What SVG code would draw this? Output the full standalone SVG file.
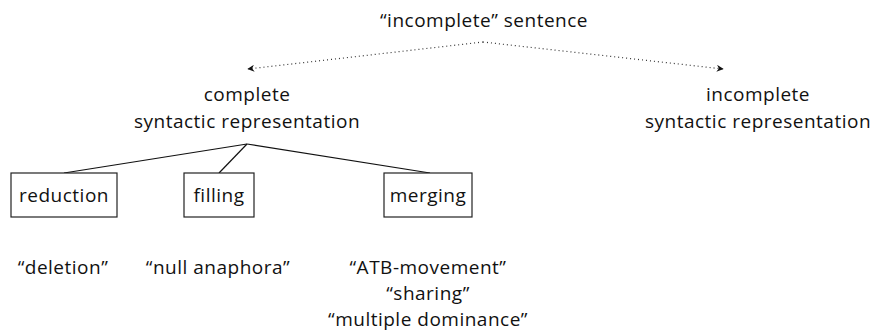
<svg xmlns="http://www.w3.org/2000/svg" width="878" height="336" viewBox="0 0 878 336">
<defs>
<style>
text{font-family:"Open Sans","Noto Sans",sans-serif;font-size:19px;letter-spacing:0.5px;fill:#111;text-anchor:middle}
.box{fill:#fff;stroke:#222;stroke-width:1.2}
.tree{stroke:#111;stroke-width:1.2;fill:none}
.dot{stroke:#333;stroke-width:1.2;fill:none;stroke-dasharray:1 3}
</style>
<marker id="ah" viewBox="0 0 10 10" refX="9" refY="5" markerWidth="7" markerHeight="7" markerUnits="userSpaceOnUse" orient="auto">
<path d="M0,0 L10,5 L0,10 L3,5 Z" fill="#111"/>
</marker>
</defs>
<g id="connectors">
<path class="dot" d="M483,42 L248,69" marker-end="url(#ah)"/>
<path class="dot" d="M483,42 L723,69" marker-end="url(#ah)"/>
<path class="tree" d="M247,144 L64,173"/>
<path class="tree" d="M247,144 L219,173"/>
<path class="tree" d="M247,144 L430,173"/>
</g>
<g id="root"><text x="484" y="27">“incomplete” sentence</text></g>
<g id="complete"><text x="247" y="101">complete</text><text x="247" y="128">syntactic representation</text></g>
<g id="incomplete"><text x="758" y="101">incomplete</text><text x="758" y="128">syntactic representation</text></g>
<g id="reduction"><rect class="box" x="11" y="173" width="106" height="44"/><text x="64" y="202">reduction</text></g>
<g id="filling"><rect class="box" x="184" y="173" width="70" height="44"/><text x="219" y="202">filling</text></g>
<g id="merging"><rect class="box" x="384" y="173" width="88" height="44"/><text x="428" y="202">merging</text></g>
<g id="deletion"><text x="63" y="274">“deletion”</text></g>
<g id="null-anaphora"><text x="218" y="274">“null anaphora”</text></g>
<g id="merging-labels"><text x="428" y="274">“ATB-movement”</text><text x="428" y="300">“sharing”</text><text x="428" y="326">“multiple dominance”</text></g>
</svg>
